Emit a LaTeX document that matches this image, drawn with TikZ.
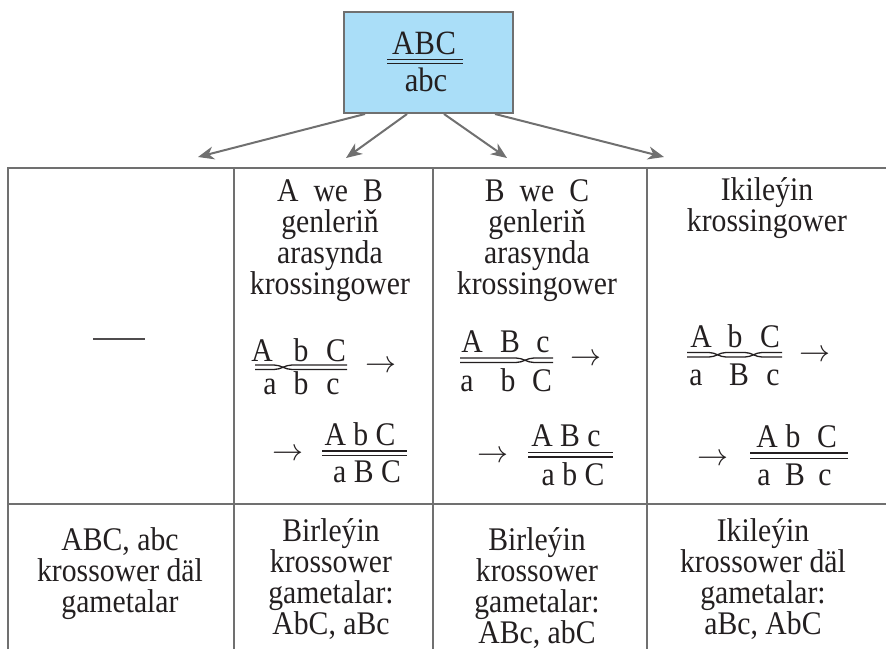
\RequirePackage{fix-cm}
\documentclass[tikz,border=0pt]{standalone}
\usepackage{fontspec}
\setmainfont{Liberation Serif}[FakeStretch=0.9]
\usetikzlibrary{arrows.meta}
\definecolor{txt}{HTML}{231F20}
\definecolor{gridc}{HTML}{707070}
\definecolor{boxfill}{RGB}{170,222,248}
\newcommand\stk[1]{\vtop{\baselineskip=31pt\lineskiplimit=-100pt\halign{\hfil##\hfil\cr#1\crcr}}}
\newcommand\rarr{{\fontsize{31}{31}\selectfont$\rightarrow$}}
\newcommand\gap{\hspace{15pt}}
\tikzset{
  lbl/.style={inner sep=0pt, anchor=base, text=txt, font=\fontsize{33}{31}\selectfont},
  tline/.style={draw=gridc, line width=2pt},
  chrom/.style={draw=txt, line width=1.3pt},
  conn/.style={draw=gridc, line width=2pt, -{Stealth[length=16pt,width=13pt,inset=5pt]}},
  topbox/.style={draw=gridc, line width=2pt, fill=boxfill, minimum width=169pt, minimum height=101pt, inner sep=0pt},
}
\begin{document}
\begin{tikzpicture}[x=1pt,y=-1pt]
\useasboundingbox (0,0) rectangle (886,649);
% top box
\node[topbox] (top) at (428.5,62.5) {};
\node[lbl, font=\fontsize{34}{31}\selectfont] (tA) at (424,54) {A\kern0.5pt B\kern0.5pt C};
\node[lbl, font=\fontsize{34}{31}\selectfont] (ta) at (426,91) {abc};
\draw[chrom] (387,59.5) -- (463,59.5);
\draw[chrom] (387,63.5) -- (463,63.5);
% arrow targets
\coordinate (t1) at (198,157);
\coordinate (t2) at (346,158);
\coordinate (t3) at (507,158);
\coordinate (t4) at (664,157);
\draw[conn] ([xshift=22pt]top.south west) -- (t1);
\draw[conn] ([xshift=64pt]top.south west) -- (t2);
\draw[conn] ([xshift=101pt]top.south west) -- (t3);
\draw[conn] ([xshift=152pt]top.south west) -- (t4);
% table
\draw[tline] (8,649) -- (8,168) -- (886,168);
\draw[tline] (234,168) -- (234,649);
\draw[tline] (433,168) -- (433,649);
\draw[tline] (647,168) -- (647,649);
\draw[tline] (8,504) -- (886,504);
% column 1
\draw[draw=txt!80, line width=2pt] (93,339) -- (145,339);
\node[lbl] (b1) at (120,550) {\stk{ABC, abc\cr krossower däl\cr gametalar}};
% column 2
\node[lbl] (h2) at (330,201) {\stk{A\gap we\gap B\cr genleriň\cr arasynda\cr krossingower}};
\node[lbl] (c2A) at (262,361) {A};
\node[lbl] (c2b) at (301,361) {b};
\node[lbl] (c2C) at (336,361) {C};
\node[lbl] (c2a) at (270,394) {a};
\node[lbl] (c2bb) at (301,394) {b};
\node[lbl] (c2c) at (333,394) {c};
\draw[chrom] (255,365) -- (274,365) to[out=0,in=180] (292,369.5) -- (347,369.5);
\draw[chrom] (255,369.5) -- (274,369.5) to[out=0,in=180] (292,365) -- (347,365);
\node[lbl, anchor=center] (r2a) at (381,367) {\rarr};
\node[lbl, anchor=center] (r2b) at (288,455) {\rarr};
\node[lbl] (d2t) at (360,445) {A b C};
\node[lbl] (d2b) at (367,482) {a B C};
\draw[chrom] (322,451) -- (407,451);
\draw[chrom] (322,455.5) -- (407,455.5);
\node[lbl] (b2) at (331,541) {\stk{Birleýin\cr krossower\cr gametalar:\cr AbC, aBc}};
% column 3
\node[lbl] (h3) at (537,201) {\stk{B\gap we\gap C\cr genleriň\cr arasynda\cr krossingower}};
\node[lbl] (c3A) at (472,352) {A};
\node[lbl] (c3B) at (510,352) {B};
\node[lbl] (c3c) at (543,352) {c};
\node[lbl] (c3a) at (467,391) {a};
\node[lbl] (c3b) at (508,391) {b};
\node[lbl] (c3C) at (542,391) {C};
\draw[chrom] (460,358) -- (516,358) to[out=0,in=180] (534,362.5) -- (553,362.5);
\draw[chrom] (460,362.5) -- (516,362.5) to[out=0,in=180] (534,358) -- (553,358);
\node[lbl, anchor=center] (r3a) at (586,360) {\rarr};
\node[lbl, anchor=center] (r3b) at (493,457) {\rarr};
\node[lbl] (d3t) at (566,446) {A B c};
\node[lbl] (d3b) at (573,485) {a b C};
\draw[chrom] (528,452.5) -- (613,452.5);
\draw[chrom] (528,457) -- (613,457);
\node[lbl] (b3) at (537,550) {\stk{Birleýin\cr krossower\cr gametalar:\cr ABc, abC}};
% column 4
\node[lbl] (h4) at (767,200) {\stk{Ikileýin\cr krossingower}};
\node[lbl] (c4A) at (701,347) {A};
\node[lbl] (c4b) at (735,347) {b};
\node[lbl] (c4C) at (770,347) {C};
\node[lbl] (c4a) at (696,385) {a};
\node[lbl] (c4B) at (739,385) {B};
\node[lbl] (c4c) at (773,385) {c};
\draw[chrom] (687,352.5) -- (709,352.5) to[out=0,in=180] (726,357) -- (745,357) to[out=0,in=180] (762,352.5) -- (782,352.5);
\draw[chrom] (687,357) -- (709,357) to[out=0,in=180] (726,352.5) -- (745,352.5) to[out=0,in=180] (762,357) -- (782,357);
\node[lbl, anchor=center] (r4a) at (815,356) {\rarr};
\node[lbl, anchor=center] (r4b) at (713,460) {\rarr};
\node[lbl] (d4A) at (767,447) {A};
\node[lbl] (d4b) at (793,447) {b};
\node[lbl] (d4C) at (827,447) {C};
\node[lbl] (d4a) at (764,485) {a};
\node[lbl] (d4B) at (795,485) {B};
\node[lbl] (d4c) at (825,485) {c};
\draw[chrom] (750,453) -- (848,453);
\draw[chrom] (750,458.5) -- (848,458.5);
\node[lbl] (b4) at (763,541) {\stk{Ikileýin\cr krossower däl\cr gametalar:\cr aBc, AbC}};
\end{tikzpicture}
\end{document}
